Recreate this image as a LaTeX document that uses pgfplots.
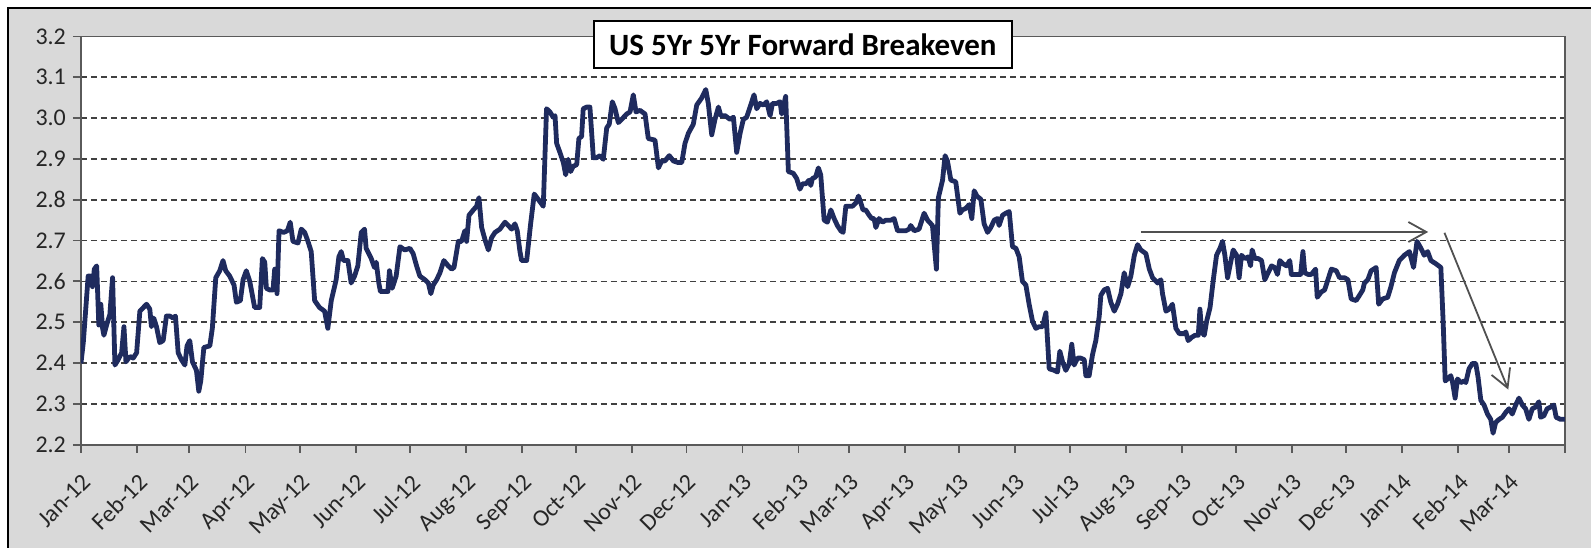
\documentclass[border=0pt]{standalone}
\usepackage{fontspec}
\setmainfont{Carlito}
\usepackage{pgfplots}
\pgfplotsset{compat=1.18}
\usetikzlibrary{arrows.meta}

\definecolor{panel}{HTML}{D9D9D9}
\definecolor{navy}{HTML}{1F2B5E}
\definecolor{gridc}{HTML}{404040}
\definecolor{axisc}{HTML}{5A5A5A}
\definecolor{arrowc}{HTML}{505050}

% x = days since 1 Jan 2012
\begin{document}
\begin{tikzpicture}
\fill[white] (0pt,0pt) rectangle (796pt,274pt);
\fill[panel] (4pt,0pt) rectangle (796pt,270pt);
\draw[black, line width=1.2pt] (4pt,0pt) -- (4pt,270pt) -- (796pt,270pt);

\begin{axis}[
  at={(40.5pt,51.5pt)}, anchor=south west,
  scale only axis, width=742.5pt, height=204.25pt,
  xmin=0, xmax=821, ymin=2.2, ymax=3.2,
  axis background/.style={fill=white},
  axis line style={draw=axisc, line width=0.9pt},
  tick style={draw=axisc, line width=0.9pt},
  tick align=outside, major tick length=4pt,
  xtick pos=bottom, ytick pos=left,
  ytick={2.2,2.3,2.4,2.5,2.6,2.7,2.8,2.9,3.0,3.1,3.2},
  ymajorgrids,
  major grid style={draw=gridc, line width=0.8pt, dash pattern=on 3pt off 2pt},
  xtick={0,31,60,91,121,152,182,213,244,274,305,335,366,397,425,456,486,517,547,578,609,639,670,700,731,762,790,821},
  xticklabels={Jan-12,Feb-12,Mar-12,Apr-12,May-12,Jun-12,Jul-12,Aug-12,Sep-12,Oct-12,Nov-12,Dec-12,Jan-13,Feb-13,Mar-13,Apr-13,May-13,Jun-13,Jul-13,Aug-13,Sep-13,Oct-13,Nov-13,Dec-13,Jan-14,Feb-14,Mar-14,{}},
  xticklabel shift=5pt,
  xticklabel style={rotate=45, anchor=north east, font=\fontsize{12}{13}\selectfont, text=black!85},
  yticklabel style={font=\fontsize{12}{13}\selectfont, text=black!85,
    /pgf/number format/fixed, /pgf/number format/fixed zerofill, /pgf/number format/precision=1},
  /pgf/number format/assume math mode=true,
]
\addplot[navy, line width=2.4pt, line join=round] coordinates {
(0,2.399) (1.3,2.450) (4,2.613) (5.3,2.613) (6.4,2.587) (7.4,2.630) (8.7,2.638) (9.9,2.493) (11,2.544) (12,2.485) (12.7,2.468) (14.2,2.493) (16,2.519) (17.5,2.609) (18.8,2.395) (20.6,2.408) (22.5,2.425) (23.8,2.489) (24.9,2.403) (27.1,2.416) (28.9,2.412) (30.8,2.425) (32.6,2.527) (36.3,2.544) (38.1,2.532) (39,2.489) (40.3,2.510) (41.8,2.489) (43.6,2.450) (45.5,2.455) (47.3,2.515) (49.2,2.515) (51,2.510) (52.3,2.515) (53.8,2.425) (55.6,2.408) (57.5,2.395) (58.7,2.442) (60.2,2.455) (61.7,2.403) (63.9,2.382) (65.2,2.331) (66.3,2.356) (68,2.438) (71.3,2.442) (72.7,2.485) (74.6,2.609) (76.8,2.626) (78.6,2.651) (80.1,2.626) (82.3,2.613) (84.7,2.591) (86,2.549) (88.2,2.553) (89.7,2.604) (91.5,2.626) (93.4,2.600) (94.3,2.579) (96.1,2.536) (98.9,2.536) (100.4,2.656) (101.7,2.647) (102.6,2.583) (104.4,2.579) (106.3,2.579) (107.2,2.630) (108.5,2.570) (109.6,2.724) (112.2,2.720) (114.2,2.724) (115.8,2.745) (117.3,2.698) (120.1,2.694) (121.9,2.728) (123.8,2.720) (125.6,2.698) (127.4,2.673) (129.3,2.553) (132,2.536) (134.8,2.527) (136.6,2.485) (138.5,2.553) (141.2,2.604) (142.7,2.660) (144,2.673) (145.3,2.651) (147.7,2.651) (149.5,2.596) (151.4,2.613) (153.2,2.638) (155.1,2.720) (156.9,2.728) (157.8,2.681) (160.6,2.656) (162.4,2.634) (163.4,2.647) (164.8,2.596) (165.7,2.575) (168,2.575) (169.8,2.575) (170.7,2.626) (172.2,2.583) (174.4,2.613) (176.5,2.685)
(179.2,2.677) (182,2.681) (183.8,2.668) (185.7,2.638) (187.5,2.613) (190.3,2.604) (192.2,2.596) (193.6,2.570) (194.9,2.591) (196.8,2.604) (198.6,2.621) (200.8,2.651) (203.2,2.638) (205.1,2.630) (206.4,2.634) (208.8,2.698) (210.6,2.698) (212.4,2.724) (213.4,2.698) (214.7,2.762) (217.1,2.775) (218.9,2.784) (220.2,2.805) (221.7,2.732) (223.5,2.703) (225.4,2.677) (227.2,2.707) (229.1,2.720) (231.8,2.728) (234.6,2.745) (236.4,2.737) (238.3,2.728) (240.1,2.741) (241.4,2.724) (242.9,2.673) (243.8,2.651) (246.6,2.651) (248.8,2.741) (250.8,2.814) (253,2.801) (255.8,2.784) (257.6,3.023) (259.5,3.015) (261.3,3.002) (262.3,3.006) (263.2,2.938) (265,2.916) (266.9,2.891) (268.2,2.861) (269.6,2.899) (270.9,2.869) (272.4,2.882) (274.3,2.886) (275.5,2.950) (277,2.955) (277.9,3.023) (279.8,3.027) (281.6,3.027) (283.5,2.903) (285.3,2.903) (287.2,2.908) (289,2.899) (290.9,2.976) (292.3,2.985) (294,3.040) (295.5,3.023) (297.3,2.989) (299.2,2.997) (301.9,3.010) (303.8,3.015) (305.6,3.057) (307.1,3.015) (309.3,3.019) (312.1,3.010) (313.9,2.950) (317.6,2.946) (319.5,2.878) (321.3,2.895) (323.1,2.895) (325.5,2.908) (327.8,2.895) (330.5,2.891) (332.4,2.891) (334.2,2.938) (336.1,2.963) (338.8,2.985) (340.7,3.032) (343.4,3.049) (345.7,3.070) (347.1,3.036) (349,2.959) (350.8,2.997) (352.7,3.027) (354,3.006) (356.4,3.006) (359.1,2.997) (361,3.002) (362.8,2.916) (364.7,2.963) (366.5,2.997) (368.3,3.002) (370.2,3.027) (372.4,3.057) (373.9,3.023) (375.7,3.036) (377.6,3.032) (379.4,3.040) (381.3,3.006) (382.6,3.036) (385,3.036) (386.8,3.040) (387.7,3.010) (389.9,3.053) (391.4,2.869) (394.1,2.865) (396,2.852) (397.8,2.826)
(399.2,2.839) (401,2.839) (402.9,2.848) (403.8,2.835) (404.7,2.852) (406.5,2.856) (408,2.878) (409.3,2.861) (411.2,2.750) (413,2.745) (414.9,2.775) (416.7,2.754) (418.5,2.737) (420.4,2.724) (421.7,2.720) (423.2,2.784) (425,2.784) (426.8,2.784) (428.7,2.792) (430.2,2.809) (431.5,2.792) (432.7,2.775) (434.2,2.775) (436.1,2.762) (437.5,2.754) (438.8,2.754) (439.8,2.732) (441.6,2.754) (443.5,2.745) (445.3,2.750) (448.1,2.750) (449.9,2.754) (451.8,2.724) (453.6,2.724) (456.4,2.724) (458.2,2.728) (459.1,2.737) (461,2.724) (463.7,2.728) (466.5,2.767) (468.4,2.750) (471.1,2.737) (473.3,2.630) (474.4,2.805) (476.7,2.848) (478.1,2.908) (479.4,2.895) (481.3,2.848) (484,2.844) (486.3,2.767) (487.7,2.775) (489.6,2.779) (491.4,2.788) (492.9,2.754) (494.2,2.822) (495.7,2.809) (497.9,2.801) (499.7,2.741) (501.6,2.720) (503.4,2.732) (505.3,2.750) (507.1,2.754) (508,2.737) (509.9,2.762) (511.7,2.767) (513.6,2.771) (515.4,2.685) (517.3,2.681) (519.1,2.660) (520.9,2.600) (522.8,2.591) (524.6,2.544) (526.5,2.502) (528.3,2.485) (530.2,2.489) (532,2.489) (533.9,2.523) (535.7,2.386) (538.5,2.382) (540.3,2.378) (541.6,2.429) (543.1,2.403) (544.9,2.382) (546.8,2.399) (548.2,2.446) (549.5,2.395) (551.4,2.412) (553.2,2.412) (555.1,2.408) (556,2.369) (557.8,2.369) (559.7,2.421) (561.5,2.455) (563.4,2.515) (564.3,2.566) (566.1,2.579) (568,2.583) (569.8,2.549) (571.7,2.527) (573.5,2.544) (575.4,2.570) (577.2,2.621) (579.1,2.587) (580.9,2.613) (582.8,2.664) (584.6,2.690) (586.4,2.677) (589.2,2.668) (591.1,2.630) (592.9,2.609) (595.7,2.596) (597.5,2.604) (598.4,2.570) (600.3,2.527) (602.1,2.532) (603.9,2.544) (605.8,2.485) (607.7,2.472) (610.4,2.472) (611.3,2.476) (612.6,2.455) (614.6,2.463)
(616.4,2.468) (618.2,2.468) (619.1,2.532) (620.1,2.476) (621.5,2.468) (622.8,2.502) (624.7,2.536) (626.5,2.604) (628.3,2.664) (630.2,2.681) (631.6,2.698) (632.9,2.664) (634.4,2.609) (635.7,2.638) (637.5,2.677) (639.4,2.664) (640.8,2.609) (642.1,2.664) (644,2.656) (645.8,2.660) (647.1,2.638) (648,2.677) (649.5,2.656) (651.3,2.656) (653.2,2.651) (655,2.604) (656.8,2.621) (658.7,2.638) (660.5,2.634) (662,2.617) (663.3,2.651) (665.1,2.643) (667,2.638) (668.8,2.651) (669.7,2.617) (671.5,2.617) (673.4,2.617) (674.8,2.617) (676.1,2.673) (677.1,2.621) (678.9,2.617) (680.7,2.617) (683.1,2.630) (684,2.561) (686.2,2.574) (688.1,2.579) (689.9,2.604) (691.8,2.630) (694.5,2.626) (696.4,2.609) (699.1,2.609) (701,2.604) (702.8,2.557) (705.5,2.553) (707.4,2.566) (709.2,2.579) (710.1,2.596) (712,2.604) (713.8,2.626) (716.6,2.634) (718,2.544) (720.2,2.557) (723,2.561) (724.8,2.587) (726.7,2.621) (729.4,2.651) (732.2,2.664) (735,2.673) (737.3,2.634) (739.2,2.698) (741.4,2.681) (743.2,2.664) (745.1,2.673) (746.9,2.651) (749.7,2.643) (752.4,2.634) (753.7,2.497) (754.8,2.356) (756.1,2.361) (757.9,2.369) (758.9,2.352) (760.3,2.314) (761.6,2.361) (763.4,2.352) (765.3,2.356) (766.2,2.352) (768,2.386) (769.9,2.399) (771.7,2.399) (773,2.365) (774.5,2.309) (776.3,2.297) (778.2,2.275) (780,2.262) (781.3,2.228) (782.7,2.254) (784.6,2.262) (786.4,2.267) (788.3,2.279) (790.1,2.288) (791.9,2.275) (793.8,2.297) (795.6,2.314) (797.5,2.297) (799.3,2.288) (801.1,2.262) (803,2.288) (804.8,2.292) (806.6,2.305) (807.6,2.267) (809.4,2.271) (811.2,2.288) (813.1,2.292) (814.9,2.297) (816.2,2.267) (818.6,2.262) (821,2.262)
};
% trend arrows
\draw[arrowc, line width=0.9pt, -{Straight Barb[length=9pt,width=10pt]}] (axis cs:586.4,2.721) -- (axis cs:745.4,2.721);
\draw[arrowc, line width=0.9pt, -{Straight Barb[length=9pt,width=10pt]}] (axis cs:754.4,2.719) -- (axis cs:789.7,2.335);
\end{axis}

\node[draw=black, line width=1pt, fill=white, inner sep=0pt,
  minimum width=209.5pt, minimum height=23.5pt,
  font=\bfseries\fontsize{15.5}{18}\selectfont] at (401.75pt,251.75pt) {US 5Yr 5Yr Forward Breakeven};
\end{tikzpicture}
\end{document}
